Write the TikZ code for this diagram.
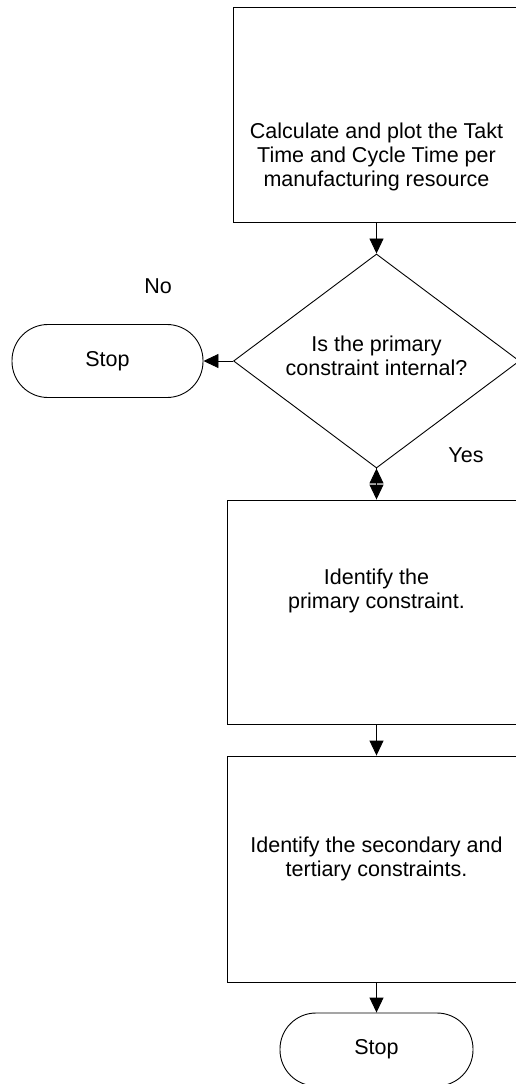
\documentclass[tikz,border=0pt]{standalone}
\usepackage{fontspec}
\setmainfont{Liberation Sans}
\usepackage{tikz}
\usetikzlibrary{arrows.meta, positioning, shapes.geometric}

\begin{document}
\begin{tikzpicture}[x=1pt,y=1pt,node distance=3cm,on grid,auto,
    font=\fontsize{21.5}{24}\selectfont]
    \tikzstyle{process}=[shape=rectangle,draw,line width=0.9pt,minimum width=299pt,minimum height=224pt,inner sep=0pt]
    \tikzstyle{decision}=[shape=diamond,draw,line width=0.9pt,minimum width=286pt,minimum height=214pt,inner sep=0pt]
    \tikzstyle{terminal}=[shape=rectangle,draw,line width=0.9pt,rounded corners=36pt,minimum width=192pt,minimum height=73pt,inner sep=0pt]
    \tikzstyle{caption}=[align=center,inner sep=0pt]
    \tikzstyle{flow}=[-{Triangle[width=14pt,length=15pt]},draw,line width=0.9pt]

    \useasboundingbox (0,0) rectangle (516,-1084);
    \clip (0,0) rectangle (516,-1084);

    \node[process, minimum width=287pt, minimum height=215pt] (calc) at (376.5,-114.5) {};
    \node[decision, below=246.5pt of calc] (internal) {};
    \node[process, below=251pt of internal] (primary) {};
    \node[process, below=257pt of primary, minimum height=226pt] (secondary) {};
    \node[terminal, below=180.5pt of secondary, minimum width=193pt] (stopyes) {Stop};
    \node[terminal, left=269pt of internal, minimum width=191pt] (stopno) {Stop};

    % texts of the boxes
    \node[caption] (calc-text) at ([yshift=-42pt]calc.center)
        {Calculate and plot the Takt\\Time and Cycle Time per\\manufacturing resource};
    \node[caption] (internal-text) at ([yshift=5pt]internal.center)
        {Is the primary\\constraint internal?};
    \node[caption] (primary-text) at ([yshift=21pt]primary.center)
        {Identify the\\primary constraint.};
    \node[caption] (secondary-text) at ([yshift=10pt]secondary.center)
        {Identify the secondary and\\tertiary constraints.};

    \node (no) at (158,-286) {No};
    \node (yes) at (466,-455) {Yes};

    \path[flow]
    (calc) edge[flow] (internal)
    (internal.west) edge[flow] (stopno.east)
    (internal.south) edge[flow] (primary.north)
    (primary) edge[flow] (secondary)
    (secondary) edge[flow] (stopyes)
    ;
\end{tikzpicture}
\end{document}
